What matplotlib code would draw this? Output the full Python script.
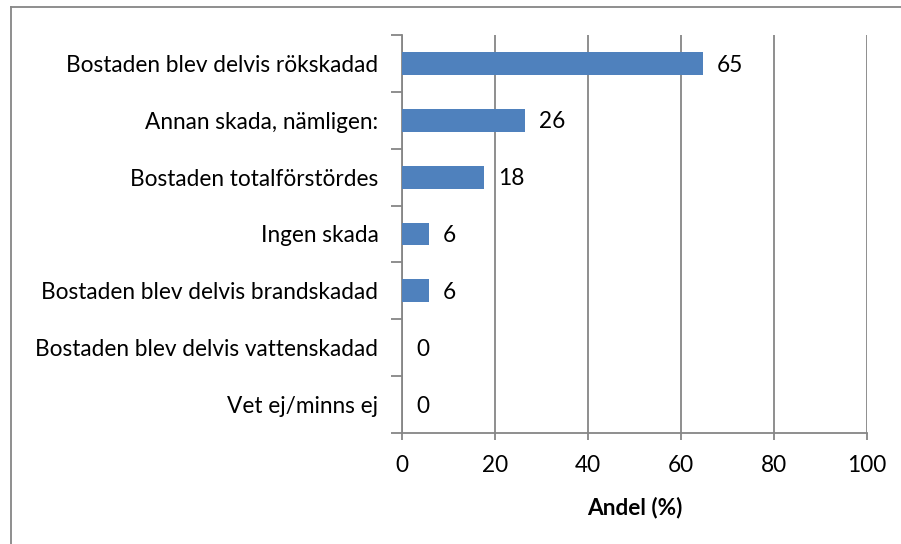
import matplotlib
matplotlib.use("Agg")
import matplotlib.pyplot as plt
from matplotlib.lines import Line2D

plt.rcParams['font.family'] = ['Lato', 'DejaVu Sans']

# kategorier (uppifrån och ned) och andelar i procent
categories = ['Bostaden blev delvis rökskadad',
              'Annan skada, nämligen:',
              'Bostaden totalförstördes',
              'Ingen skada',
              'Bostaden blev delvis brandskadad',
              'Bostaden blev delvis vattenskadad',
              'Vet ej/minns ej']
values = [64.7, 26.5, 17.6, 5.8, 5.8, 0, 0]
labels = ['65', '26', '18', '6', '6', '0', '0']

xticks = [0, 20, 40, 60, 80, 100]

grid_col = '#868686'
bar_col = '#4F81BD'
fs = 16.3

fig = plt.figure(figsize=(9.01, 5.44), dpi=100)
ax = fig.add_axes([402/901, 1-433/544, 465/901, 398/544])

pos = list(range(len(categories)))
ax.barh(pos, values, height=0.4, color=bar_col, zorder=3)
for p, v, lab in zip(pos, values, labels):
    ax.text(v + 3, p + 0.03, lab, va='center', ha='left', fontsize=fs, zorder=4)

ax.set_xlim(0, 100)
ax.set_ylim(len(categories) - 0.5, -0.5)
ax.set_xticks(xticks)
ax.set_xticklabels([str(t) for t in xticks], fontsize=fs)
ax.set_yticks([p - 0.5 for p in pos] + [len(categories) - 0.5])
ax.set_yticklabels([])
ax.set_yticks(pos, minor=True)
ax.set_yticklabels(categories, minor=True, fontsize=fs)
ax.tick_params(axis='y', which='minor', length=0, pad=17)
ax.tick_params(axis='y', which='major', length=8, width=1.3, color=grid_col)
ax.tick_params(axis='x', length=5, width=1.3, color=grid_col, pad=11)
ax.xaxis.grid(True, color=grid_col, linewidth=1.3, zorder=0)
for s in ['top', 'right']:
    ax.spines[s].set_visible(False)
for s in ['left', 'bottom']:
    ax.spines[s].set_color(grid_col)
    ax.spines[s].set_linewidth(1.3)
ax.set_xlabel('Andel (%)', fontsize=fs, fontweight='bold', labelpad=15)

# ram runt diagrammet
fig.add_artist(Line2D([11/901, 11/901], [0, 1-7/544], transform=fig.transFigure,
                      color=grid_col, linewidth=1.3))
fig.add_artist(Line2D([11/901, 1], [1-7/544, 1-7/544], transform=fig.transFigure,
                      color=grid_col, linewidth=1.3))

fig.savefig('out.png', dpi=100)
